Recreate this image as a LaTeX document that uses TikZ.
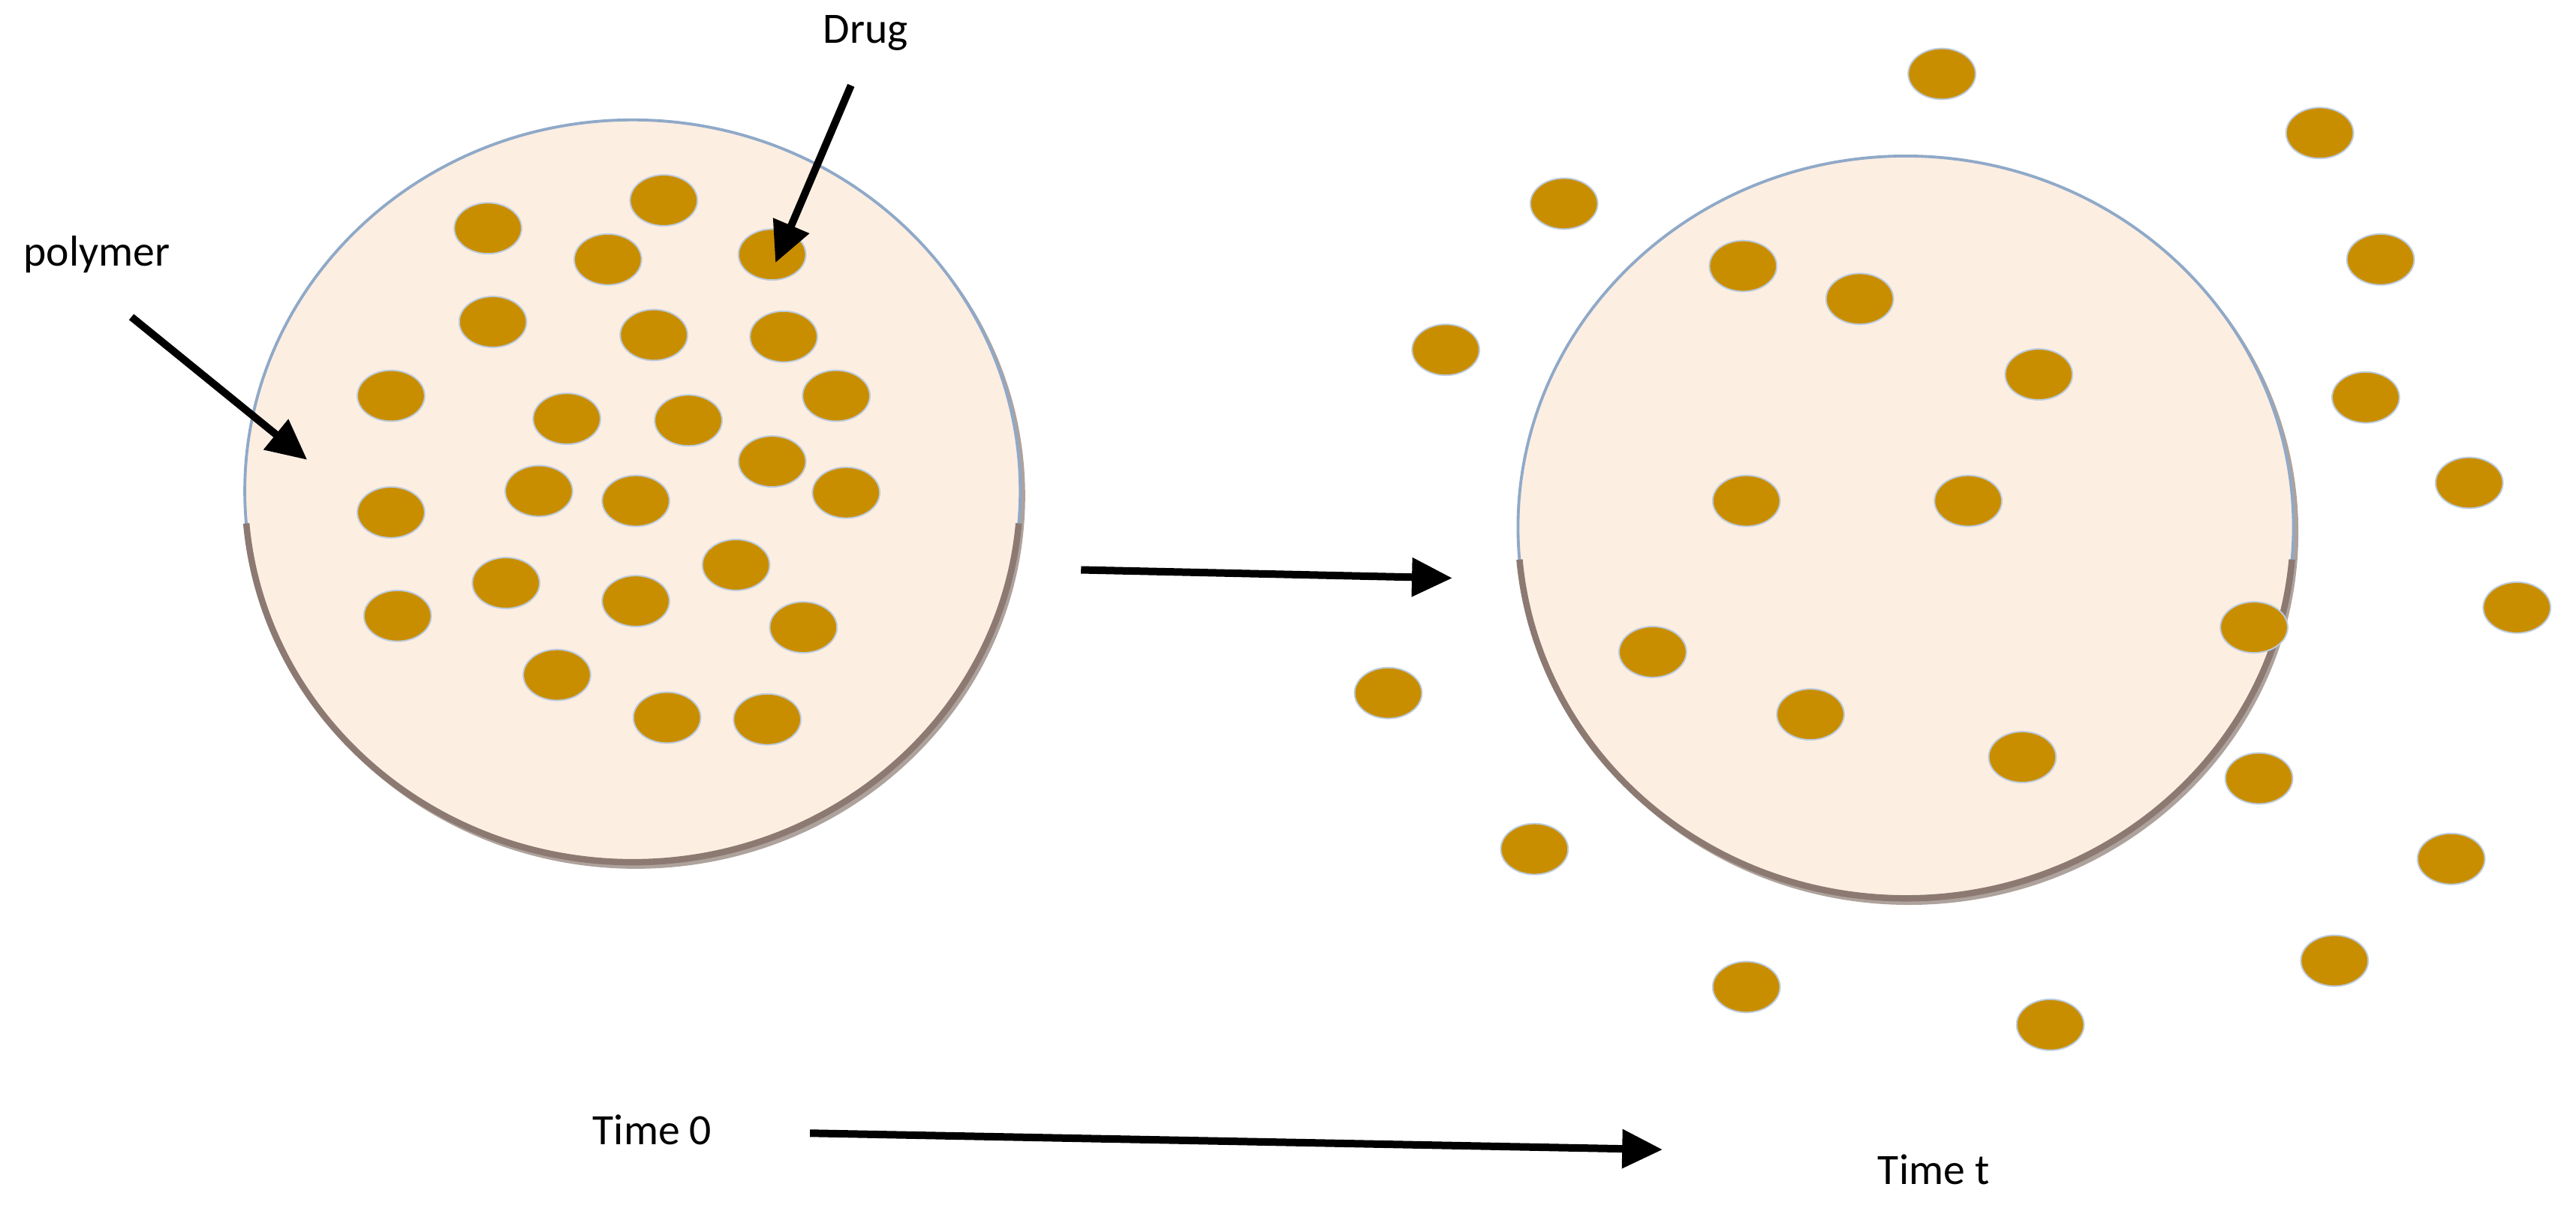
\documentclass[tikz,border=0pt]{standalone}
\usepackage{fontspec}
\setmainfont{Carlito}
\usetikzlibrary{shapes.geometric,arrows.meta}
\definecolor{peach}{HTML}{FDEEE2}
\definecolor{rimA}{HTML}{8FA9C8}
\definecolor{rimB}{HTML}{8C7A72}
\definecolor{drug}{HTML}{C98E00}
\newlength{\pxu}\setlength{\pxu}{0.02cm}
\tikzset{
 dot/.style={ellipse,draw=rimA!60,line width=0.5pt,fill=drug,minimum width=41\pxu,minimum height=31\pxu,inner sep=0pt},
 arr/.style={line width=2.6pt,-{Triangle[length=14pt,width=13pt]}},
 lbl/.style={font=\fontsize{15}{17}\selectfont,inner sep=0pt},
 disc/.style={ellipse,fill=peach,draw=rimA,line width=1pt,minimum width=472\pxu,minimum height=452\pxu}
}
\begin{document}
\begin{tikzpicture}[x=0.02cm,y=-0.02cm]
\useasboundingbox (0,0) rectangle (1568,737);
% left particle
\fill[rimB!70] (387,302) ellipse [x radius=237,y radius=227];
\node[disc] (c1) at (385,299) {};
\draw[rimB,line width=2.2pt] (c1.center) ++(5:236 and 226) arc[start angle=5,end angle=175,x radius=236,y radius=226];
% right particle
\fill[rimB!70] (1162,324) ellipse [x radius=237,y radius=227];
\node[disc] (c2) at (1160,321) {};
\draw[rimB,line width=2.2pt] (c2.center) ++(5:236 and 226) arc[start angle=5,end angle=175,x radius=236,y radius=226];
% dots
\foreach \x/\y [count=\i] in {404/122,297/139,370/158,470/155,300/196,398/204,477/205,238/241,345/255,419/256,509/241,470/281,238/312,328/299,387/305,515/300,308/355,387/366,448/344,242/375,489/382,339/411,406/437,467/438}
  \node[dot] (l\i) at (\x,\y) {};
\foreach \x/\y [count=\i] in {1182/45,1412/81,952/124,1449/158,1061/162,1132/182,880/213,1241/228,1440/242,1063/305,1198/305,1503/294,1532/370,1372/382,1006/397,845/422,1102/435,1231/461,1375/474,934/517,1492/523,1421/585,1063/601,1248/624}
  \node[dot] (r\i) at (\x,\y) {};
% labels
\node[lbl] (poly) at (59,155) {polymer};
\node[lbl] (drugl) at (527,20) {Drug};
\node[lbl] (t0) at (397,688) {Time 0};
\node[lbl] (tt) at (1177,712) {Time t};
\coordinate (pa) at (80,193); \coordinate (pb) at (187,280);
\coordinate (da) at (518,52); \coordinate (db) at (472,160);
\coordinate (ma) at (658,347); \coordinate (mb) at (884,352);
\coordinate (ba) at (493,690); \coordinate (bb) at (1012,700);
\draw[arr] (pa) -- (pb);
\draw[arr] (da) -- (db);
\draw[arr] (ma) -- (mb);
\draw[arr] (ba) -- (bb);
\end{tikzpicture}
\end{document}
